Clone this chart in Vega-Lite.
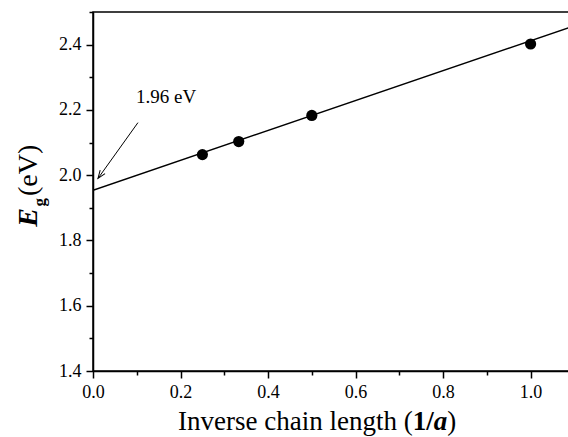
{
  "$schema": "https://vega.github.io/schema/vega-lite/v6.json",
  "width": 477,
  "height": 359,
  "autosize": "none",
  "padding": {"left": 93, "top": 12, "right": 0, "bottom": 66},
  "config": {
    "view": {"stroke": "black", "strokeWidth": 1.5},
    "font": "Liberation Serif",
    "axis": {"labelFont": "Liberation Serif", "titleFont": "Liberation Serif"},
    "text": {"font": "Liberation Serif", "color": "black"}
  },
  "encoding": {
    "x": {
      "field": "x", "type": "quantitative",
      "scale": {"domain": [0, 1.09], "nice": false, "zero": false},
      "axis": {
        "title": null, "grid": false,
        "values": [0, 0.1, 0.2, 0.3, 0.4, 0.5, 0.6, 0.7, 0.8, 0.9, 1.0],
        "format": ".1f",
        "labelExpr": "round(datum.value*10)%2==0 ? datum.label : ''",
        "tickSize": {"condition": {"test": "round(datum.value*10)%2==0", "value": 7}, "value": 4},
        "labelFontSize": 18, "labelFont": "Liberation Serif", "labelColor": "black",
        "domainColor": "black", "tickColor": "black", "domainWidth": 1.5, "tickWidth": 1.5,
        "labelPadding": 5, "labelFlush": false, "labelOverlap": false
      }
    },
    "y": {
      "field": "y", "type": "quantitative",
      "scale": {"domain": [1.4, 2.5], "nice": false, "zero": false},
      "axis": {
        "title": null, "grid": false,
        "values": [1.4, 1.5, 1.6, 1.7, 1.8, 1.9, 2.0, 2.1, 2.2, 2.3, 2.4, 2.5],
        "format": ".1f",
        "labelExpr": "round(datum.value*10)%2==0 && datum.value < 2.45 ? datum.label : ''",
        "tickSize": {"condition": {"test": "round(datum.value*10)%2==0", "value": 7}, "value": 4},
        "labelFontSize": 18, "labelFont": "Liberation Serif", "labelColor": "black",
        "domainColor": "black", "tickColor": "black", "domainWidth": 1.5, "tickWidth": 1.5,
        "labelPadding": 5, "labelOverlap": false
      }
    }
  },
  "layer": [
    {
      "data": {"values": [{"x": 0, "y": 1.954}, {"x": 1.09, "y": 2.453}]},
      "mark": {"type": "line", "color": "black", "strokeWidth": 1.5, "clip": true}
    },
    {
      "data": {"values": [
        {"x": 0.25, "y": 2.063},
        {"x": 0.333, "y": 2.103},
        {"x": 0.5, "y": 2.183},
        {"x": 1.0, "y": 2.402}
      ]},
      "mark": {"type": "circle", "size": 125, "opacity": 1, "color": "black"}
    },
    {
      "data": {"values": [{"x": 0.1027, "y": 2.161, "x2": 0.0114, "y2": 1.99}]},
      "mark": {"type": "rule", "color": "black", "strokeWidth": 1},
      "encoding": {"x2": {"field": "x2"}, "y2": {"field": "y2"}}
    },
    {
      "data": {"values": [{"x": 0.0114, "y": 1.99}]},
      "mark": {"type": "point", "shape": "M-1.5,4L0,0L1.5,4", "size": 16, "filled": false, "stroke": "black", "strokeWidth": 1, "opacity": 1, "angle": 215.5}
    },
    {
      "data": {"values": [{"x": 0.167, "y": 2.222, "label": "1.96 eV"}]},
      "mark": {"type": "text", "font": "Liberation Serif", "fontSize": 19, "align": "center", "baseline": "alphabetic"},
      "encoding": {"text": {"field": "label"}}
    },
    {
      "data": {"values": [{"x": 0.7306, "y": 1.2194, "label": "Inverse chain length ("}]},
      "mark": {"type": "text", "font": "Liberation Serif", "fontSize": 27, "align": "right", "baseline": "alphabetic"},
      "encoding": {"text": {"field": "label"}}
    },
    {
      "data": {"values": [{"x": 0.7306, "y": 1.2194, "label": "1/"}]},
      "mark": {"type": "text", "font": "Liberation Serif", "fontSize": 27, "fontWeight": "bold", "align": "left", "baseline": "alphabetic"},
      "encoding": {"text": {"field": "label"}}
    },
    {
      "data": {"values": [{"x": 0.7306, "y": 1.2194, "label": "a"}]},
      "mark": {"type": "text", "font": "Liberation Serif", "fontSize": 27, "fontWeight": "bold", "fontStyle": "italic", "align": "left", "baseline": "alphabetic", "dx": 21},
      "encoding": {"text": {"field": "label"}}
    },
    {
      "data": {"values": [{"x": 0.7306, "y": 1.2194, "label": ")"}]},
      "mark": {"type": "text", "font": "Liberation Serif", "fontSize": 27, "align": "left", "baseline": "alphabetic", "dx": 34.5},
      "encoding": {"text": {"field": "label"}}
    },
    {
      "data": {"values": [{"x": -0.1279, "y": 1.9332, "label": "(eV)"}]},
      "mark": {"type": "text", "font": "Liberation Serif", "fontSize": 28, "angle": 270, "align": "left", "baseline": "alphabetic", "dx": 1},
      "encoding": {"text": {"field": "label"}}
    },
    {
      "data": {"values": [{"x": -0.1279, "y": 1.9332, "label": "g"}]},
      "mark": {"type": "text", "font": "Liberation Serif", "fontSize": 17, "fontWeight": "bold", "angle": 270, "align": "right", "baseline": "alphabetic", "dx": -1, "dy": 8},
      "encoding": {"text": {"field": "label"}}
    },
    {
      "data": {"values": [{"x": -0.1279, "y": 1.9332, "label": "E"}]},
      "mark": {"type": "text", "font": "Liberation Serif", "fontSize": 28, "fontWeight": "bold", "fontStyle": "italic", "angle": 270, "align": "right", "baseline": "alphabetic", "dx": -11},
      "encoding": {"text": {"field": "label"}}
    }
  ]
}
